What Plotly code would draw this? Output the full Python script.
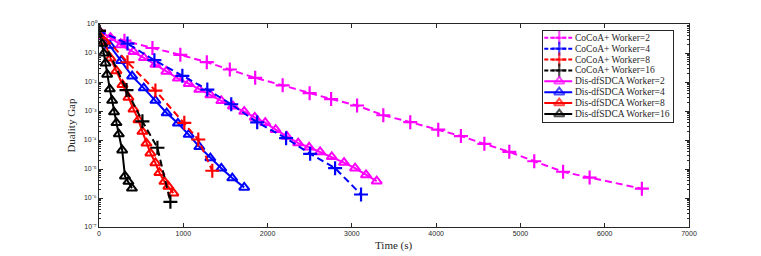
import plotly.graph_objects as go

# ---------------- data ----------------
cocoa2_t = [0, 302, 634, 965, 1279, 1552, 1853, 2179, 2499, 2754, 3062, 3373, 3693,
            4025, 4294, 4572, 4868, 5164, 5506, 5821, 6441]
cocoa2_gap = [0.54, 0.267, 0.149, 0.0865, 0.0483, 0.027, 0.0139, 0.00766, 0.00411,
              0.00258, 0.00155, 7.13e-4, 4.13e-4, 2.27e-4, 1.37e-4, 7.36e-5, 3.9e-5,
              1.85e-5, 8.05e-6, 5.05e-6, 2.1e-6]

cocoa4_t = [0, 338, 657, 989, 1285, 1569, 1877, 2220, 2505, 2801, 3109]
cocoa4_gap = [0.58, 0.211, 0.0565, 0.0163, 0.0055, 0.00171, 4.06e-4, 1.16e-4, 3.34e-5,
              1.07e-5, 1.32e-6]

cocoa8_t = [0, 338, 669, 1012, 1178, 1344]
cocoa8_gap = [0.58, 0.048, 0.00508, 3.91e-4, 1.04e-4, 8.7e-6]

cocoa16_t = [0, 326, 515, 693, 847]
cocoa16_gap = [0.58, 0.00528, 4.4e-4, 5.4e-5, 7.4e-7]

dis2_t = [0, 136, 261, 409, 533, 669, 799, 936, 1064, 1190, 1321, 1451, 1589, 1723,
          1848, 1972, 2096, 2229, 2363, 2493, 2623, 2762, 2907, 3038, 3168, 3295]
dis2_gap = [0.58, 0.337, 0.188, 0.111, 0.0685, 0.0398, 0.0231, 0.0134, 0.00875, 0.00549,
            0.00358, 0.00225, 0.00147, 9.55e-4, 6.0e-4, 3.97e-4, 2.27e-4, 1.32e-4,
            7.83e-5, 5.61e-5, 3.89e-5, 2.64e-5, 1.66e-5, 1.07e-5, 6.22e-6, 3.79e-6]

dis4_t = [0, 130, 263, 393, 531, 669, 803, 936, 1064, 1190, 1321, 1451, 1581, 1723]
dis4_gap = [0.58, 0.181, 0.0543, 0.0159, 0.00617, 0.00228, 8.51e-4, 3.76e-4, 1.54e-4,
            5.83e-5, 2.39e-5, 1.06e-5, 4.86e-6, 2.32e-6]

dis8_t = [0, 65, 136, 207, 278, 349, 409, 468, 515, 563, 610, 669, 717, 776, 823, 882]
dis8_gap = [0.58, 0.247, 0.066, 0.024, 0.0081, 0.00295, 0.00116, 4.94e-4, 1.95e-4,
            7.65e-5, 3.52e-5, 1.62e-5, 7.44e-6, 3.7e-6, 2.51e-6, 1.46e-6]

dis16_t = [0, 36, 57, 77, 97, 128, 156, 178, 207, 235, 275, 308, 349, 391]
dis16_gap = [0.58, 0.211, 0.0972, 0.0447, 0.0183, 0.0057, 0.00228, 9.2e-4, 3.91e-4,
             1.6e-4, 4.45e-5, 5.67e-6, 3.7e-6, 2.15e-6]

series_names = ["CoCoA+ Worker=2", "CoCoA+ Worker=4", "CoCoA+ Worker=8", "CoCoA+ Worker=16",
                "Dis-dfSDCA Worker=2", "Dis-dfSDCA Worker=4", "Dis-dfSDCA Worker=8",
                "Dis-dfSDCA Worker=16"]
series_t = [cocoa2_t, cocoa4_t, cocoa8_t, cocoa16_t, dis2_t, dis4_t, dis8_t, dis16_t]
series_gap = [cocoa2_gap, cocoa4_gap, cocoa8_gap, cocoa16_gap,
              dis2_gap, dis4_gap, dis8_gap, dis16_gap]
series_colors = ["#ff00ff", "#0000ff", "#ff0000", "#000000"] * 2

x_ticks = [0, 1000, 2000, 3000, 4000, 5000, 6000, 7000]
y_exponents = [0, -1, -2, -3, -4, -5, -6, -7]
y_ticktext = ["10\u2070", "10\u207b\u00b9", "10\u207b\u00b2", "10\u207b\u00b3",
              "10\u207b\u2074", "10\u207b\u2075", "10\u207b\u2076", "10\u207b\u2077"]
x_title = "Time (s)"
y_title = "Duality Gap"

# ---------------- figure ----------------
fig = go.Figure()
AX = "#262626"

def style(i):
    cocoa = i < 4
    return dict(
        line=dict(color=series_colors[i], width=2, dash="7px,4px" if cocoa else "solid"),
        symbol="cross-thin-open" if cocoa else "triangle-up-open",
        msize=10 if cocoa else 9,
        mwidth=2.2 if cocoa else 2,
    )

order = [4, 5, 6, 7, 0, 1, 2, 3]
for i in order:
    s = style(i)
    fig.add_trace(go.Scatter(
        x=series_t[i], y=series_gap[i], mode="lines+markers", name=series_names[i],
        line=s["line"],
        marker=dict(symbol=s["symbol"], size=s["msize"], color=series_colors[i],
                    line=dict(color=series_colors[i], width=s["mwidth"])),
        showlegend=False, xaxis="x", yaxis="y"))

# custom legend drawn in an inset axes (glyph positions derived from entry index)
annotations = []
for k, name in enumerate(series_names):
    s = style(k)
    fig.add_trace(go.Scatter(
        x=[1, 16, 29], y=[k, k, k], mode="lines+markers",
        line=dict(color=series_colors[k], width=2,
                  dash="4px,2px" if k < 4 else "solid"),
        marker=dict(symbol=s["symbol"], size=[0, s["msize"], 0], color=series_colors[k],
                    line=dict(color=series_colors[k], width=s["mwidth"])),
        showlegend=False, xaxis="x2", yaxis="y2", cliponaxis=False, hoverinfo="skip"))
    annotations.append(dict(
        x=30, y=k, xref="x2", yref="y2", text=name, showarrow=False,
        xanchor="left", yanchor="middle",
        font=dict(family="Liberation Serif", size=9.5, color=AX)))

# axis titles
title_font = dict(family="Liberation Serif", size=11, color=AX)
annotations.append(dict(x=0.5, y=-0.089, xref="paper", yref="paper", text=x_title,
                        showarrow=False, xanchor="center", yanchor="middle", font=title_font))
annotations.append(dict(x=-0.049, y=0.5, xref="paper", yref="paper", text=y_title,
                        showarrow=False, xanchor="center", yanchor="middle", textangle=-90,
                        font=title_font))

minor_vals = [m * 10.0 ** e for e in range(-7, 0) for m in range(2, 10)]

tickfont = dict(family="Liberation Sans", size=7, color=AX)
fig.update_layout(
    width=753, height=248,
    margin=dict(l=90.5, r=71.5, t=12, b=28.5),
    paper_bgcolor="white", plot_bgcolor="white",
    showlegend=False,
    annotations=annotations,
    xaxis=dict(range=[0, 7000], tickvals=x_ticks, ticks="inside", ticklen=4,
               tickcolor=AX, showline=True, linecolor=AX, linewidth=1, mirror="ticks",
               showgrid=False, zeroline=False, tickfont=tickfont),
    yaxis=dict(type="log", range=[-7, 0],
               tickvals=[10.0 ** e for e in y_exponents],
               ticktext=y_ticktext,
               ticks="inside", ticklen=4, tickcolor=AX, showline=True, linecolor=AX,
               linewidth=1, mirror="ticks", showgrid=False, zeroline=False,
               tickfont=tickfont,
               minor=dict(ticks="inside", ticklen=2, tickcolor=AX, tickvals=minor_vals,
                          showgrid=False)),
    xaxis2=dict(domain=[0.7530, 0.9729], range=[0, 130], visible=True, showticklabels=False,
                ticks="", showgrid=False, zeroline=False, showline=True, linecolor=AX,
                linewidth=1, mirror=True, anchor="y2", fixedrange=True),
    yaxis2=dict(domain=[0.519, 0.966], range=[7.7, -0.63], showticklabels=False, ticks="",
                showgrid=False, zeroline=False, showline=True, linecolor=AX, linewidth=1,
                mirror=True, anchor="x2", fixedrange=True),
)
fig.write_html("out.html")
